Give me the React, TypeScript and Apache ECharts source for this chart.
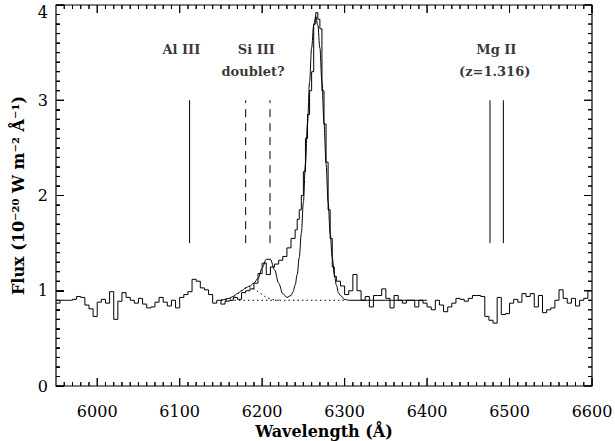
import React, { useEffect, useRef } from "react";
import * as echarts from "echarts";

// Observed spectrum (step histogram): bin start wavelength (Å) and flux
const histLambda = [
  5950, 5955, 5960, 5965, 5970, 5975, 5980, 5985, 5990, 5995,
  6000, 6005, 6010, 6015, 6020, 6025, 6030, 6035, 6040, 6045,
  6050, 6055, 6060, 6065, 6070, 6075, 6080, 6085, 6090, 6095,
  6100, 6105, 6110, 6115, 6120, 6125, 6130, 6135, 6140, 6145,
  6150, 6155, 6160, 6165, 6170, 6175, 6180, 6185, 6190, 6195,
  6200, 6205, 6210, 6215, 6220, 6225, 6230, 6235, 6240, 6242.5,
  6245, 6247.5, 6250, 6252.5, 6255, 6257.5, 6260, 6262.5, 6265, 6267.5,
  6270, 6272.5, 6275, 6277.5, 6280, 6282.5, 6285, 6287.5, 6290, 6295,
  6300, 6305, 6310, 6315, 6320, 6325, 6330, 6335, 6340, 6345,
  6350, 6355, 6360, 6365, 6370, 6375, 6380, 6385, 6390, 6395,
  6400, 6405, 6410, 6415, 6420, 6425, 6430, 6435, 6440, 6445,
  6450, 6455, 6460, 6465, 6470, 6475, 6480, 6485, 6490, 6495,
  6500, 6505, 6510, 6515, 6520, 6525, 6530, 6535, 6540, 6545,
  6550, 6555, 6560, 6565, 6570, 6575, 6580, 6585, 6590, 6595,
  6600,
];
const histFlux = [
  0.87, 0.9, 0.9, 0.9, 0.91, 0.94, 0.93, 0.85, 0.81, 0.73,
  0.88, 0.91, 0.87, 0.99, 0.7, 0.89, 0.98, 0.93, 0.9, 0.87,
  0.92, 0.86, 0.82, 0.83, 0.88, 0.93, 0.88, 0.84, 0.9, 0.82,
  0.93, 0.96, 0.99, 1.12, 1.1, 1.03, 1.01, 0.96, 0.87, 0.9,
  0.86, 0.89, 0.9, 0.93, 0.91, 0.98, 1.0, 1.02, 1.08, 1.18,
  1.29, 1.17, 1.25, 1.28, 1.32, 1.36, 1.45, 1.55, 1.64, 1.75,
  1.85, 2.0, 2.25, 2.6, 2.85, 3.1, 3.3, 3.8, 3.92, 3.85,
  3.75, 3.1, 2.75, 2.35, 1.85, 1.55, 1.25, 1.15, 1.1, 1.05,
  0.96, 1.0, 1.17, 1.0, 0.9, 0.94, 0.83, 0.95, 0.95, 1.02,
  0.92, 0.82, 0.95, 0.9, 0.87, 0.9, 0.9, 0.83, 0.9, 0.87,
  0.83, 0.8, 0.9, 0.85, 0.78, 0.83, 0.87, 0.92, 0.91, 0.89,
  0.92, 0.95, 0.95, 0.94, 0.73, 0.69, 0.66, 0.93, 0.75, 0.76,
  0.87, 0.91, 0.88, 0.97, 0.94, 0.97, 0.83, 0.95, 0.77, 0.8,
  0.82, 0.9, 1.01, 0.92, 0.87, 0.92, 0.84, 0.9, 0.92, 1.0,
  1.0,
];

// Fitted model (solid curve)
const fitLambda = [
  6150, 6155, 6160, 6165, 6170, 6175, 6180, 6185, 6190, 6195,
  6200, 6205, 6210, 6215, 6220, 6225, 6230, 6235, 6237.5, 6240,
  6242.5, 6245, 6247.5, 6250, 6252.5, 6255, 6257.5, 6260, 6262.5, 6265,
  6267.5, 6270, 6272.5, 6275, 6277.5, 6280, 6282.5, 6285, 6287.5, 6290,
  6292.5, 6295, 6300, 6305, 6400,
];
const fitFlux = [
  0.9, 0.91, 0.92, 0.94, 0.97, 1.0, 1.03, 1.05, 1.08, 1.13,
  1.24, 1.33, 1.33, 1.22, 1.08, 0.97, 0.93, 0.95, 0.99, 1.06,
  1.17, 1.35, 1.6, 1.93, 2.33, 2.76, 3.19, 3.55, 3.79, 3.88,
  3.79, 3.55, 3.19, 2.76, 2.33, 1.93, 1.6, 1.35, 1.17, 1.06,
  0.98, 0.95, 0.91, 0.9, 0.9,
];

// Dotted fit component and dotted continuum
const compLambda = [6150, 6155, 6160, 6165, 6170, 6175, 6180, 6185, 6190, 6195, 6200, 6205, 6210, 6215, 6220];
const compFlux = [0.9, 0.91, 0.92, 0.94, 0.97, 1.0, 1.03, 1.04, 1.02, 0.99, 0.96, 0.93, 0.915, 0.905, 0.9];
const contLambda = [6150, 6300];
const contFlux = [0.9, 0.9];

// Line identifications
const alIIILines = [6112];
const siIIILines = [6180, 6209.5];
const mgIILines = [6476.3, 6492.5];
const markerFlux = [1.5, 3.0];

const labelTexts = ["Al III", "Si III", "doublet?", "Mg II", "(z=1.316)"];
const labelLambda = [6102, 6193, 6189, 6484, 6482];
const labelFlux = [3.53, 3.53, 3.3, 3.53, 3.3];

// Axes
const xRange = [5950, 6600];
const yRange = [0, 4];
const xMajorTicks = [6000, 6100, 6200, 6300, 6400, 6500, 6600];
const yMajorTicks = [0, 1, 2, 3, 4];
const xMinorStep = 10;
const yMinorStep = 0.1;

const SERIF = "'DejaVu Serif', serif";
const GRID = { left: 56, right: 23, top: 5, bottom: 55 };
const W = 615;
const H = 441;
const MAJOR_LEN = 8;
const MINOR_LEN = 4;

export default function App() {
  const ref = useRef<HTMLDivElement>(null);

  useEffect(() => {
    if (!ref.current) return;
    const chart = echarts.init(ref.current, null, { renderer: "svg" });
    const black = "#000";

    const xMinor: number[] = [];
    for (let k = 1; xRange[0] + k * xMinorStep < xRange[1] - 1e-6; k++) {
      const v = xRange[0] + k * xMinorStep;
      if (Math.abs(v % 100) > 1e-6) xMinor.push(v);
    }
    const yMinor: number[] = [];
    for (let k = 1; k * yMinorStep < yRange[1] - 1e-6; k++) {
      const v = Math.round(k * yMinorStep * 10) / 10;
      if (Math.abs(v - Math.round(v)) > 1e-6) yMinor.push(v);
    }

    // Tick marks drawn as thin rectangle symbols, positioned by the axes' scales
    const tickMarks: any[] = [];
    const addX = (v: number, len: number) => {
      tickMarks.push({ value: [v, yRange[0]], symbolSize: [1, len], symbolOffset: [0, -len / 2] });
      tickMarks.push({ value: [v, yRange[1]], symbolSize: [1, len], symbolOffset: [0, len / 2] });
    };
    const addY = (v: number, len: number) => {
      tickMarks.push({ value: [xRange[0], v], symbolSize: [len, 1], symbolOffset: [len / 2, 0] });
      tickMarks.push({ value: [xRange[1], v], symbolSize: [len, 1], symbolOffset: [-len / 2, 0] });
    };
    xMajorTicks.forEach((v) => addX(v, MAJOR_LEN));
    xMinor.forEach((v) => addX(v, MINOR_LEN));
    yMajorTicks.forEach((v) => addY(v, MAJOR_LEN));
    yMinor.forEach((v) => addY(v, MINOR_LEN));

    const pairs = (xs: number[], ys: number[]) => xs.map((x, i) => [x, ys[i]]);
    const vline = (x: number, dashed: boolean) => ({
      type: "line",
      data: [
        [x, markerFlux[0]],
        [x, markerFlux[1]],
      ],
      showSymbol: false,
      silent: true,
      lineStyle: { color: black, width: 1, type: dashed ? [8, 6] : "solid" },
    });

    const option: any = {
      animation: false,
      backgroundColor: "#fff",
      grid: {
        ...GRID,
        outerBoundsMode: "none",
        show: true,
        borderColor: black,
        borderWidth: 1.2,
        backgroundColor: "transparent",
      },
      xAxis: {
        type: "value",
        min: xRange[0],
        max: xRange[1],
        splitNumber: 6,
        splitLine: { show: false },
        axisLine: { show: false },
        axisTick: { show: false },
        axisLabel: {
          show: true,
          color: black,
          fontFamily: SERIF,
          fontSize: 16,
          margin: 17,
          formatter: (v: number) => (v % 100 === 0 ? String(v) : ""),
        },
        name: "Wavelength (Å)",
        nameLocation: "middle",
        nameGap: 37,
        nameTextStyle: { color: black, fontFamily: SERIF, fontSize: 16, fontWeight: "bold" },
      },
      yAxis: {
        type: "value",
        min: yRange[0],
        max: yRange[1],
        interval: 1,
        splitLine: { show: false },
        axisLine: { show: false },
        axisTick: { show: true, inside: true, length: MAJOR_LEN, lineStyle: { color: black, width: 1 } },
        minorTick: { show: true, splitNumber: 10, length: MINOR_LEN, lineStyle: { color: black, width: 1 } },
        minorSplitLine: { show: false },
        axisLabel: {
          show: true,
          color: black,
          fontFamily: SERIF,
          fontSize: 16,
          margin: 8,
          formatter: (v: number) => (v === yRange[1] ? "{top|" + v + "}" : String(v)),
          rich: { top: { fontFamily: SERIF, fontSize: 16, color: black, padding: [14, 0, 0, 0] } },
        },
        name: "Flux (10⁻²⁰ W m⁻² Å⁻¹)",
        nameLocation: "middle",
        nameRotate: 90,
        nameGap: 29,
        nameTextStyle: { color: black, fontFamily: SERIF, fontSize: 16, fontWeight: "bold" },
      },
      series: [
        {
          type: "scatter",
          data: tickMarks,
          symbol: "rect",
          clip: false,
          silent: true,
          z: 20,
          itemStyle: { color: black, opacity: 1 },
        },
        {
          type: "line",
          step: "end",
          data: pairs(histLambda, histFlux),
          showSymbol: false,
          silent: true,
          lineStyle: { color: black, width: 1 },
        },
        {
          type: "line",
          data: pairs(fitLambda, fitFlux),
          smooth: 0.35,
          smoothMonotone: "x",
          showSymbol: false,
          silent: true,
          lineStyle: { color: black, width: 1 },
        },
        {
          type: "line",
          data: pairs(compLambda, compFlux),
          smooth: 0.35,
          showSymbol: false,
          silent: true,
          lineStyle: { color: black, width: 1, type: [1.5, 3] },
        },
        {
          type: "line",
          data: pairs(contLambda, contFlux),
          showSymbol: false,
          silent: true,
          lineStyle: { color: black, width: 1, type: [1.5, 3] },
        },
        ...alIIILines.map((x) => vline(x, false)),
        ...siIIILines.map((x) => vline(x, true)),
        ...mgIILines.map((x) => vline(x, false)),
        {
          type: "scatter",
          symbolSize: 1,
          silent: true,
          itemStyle: { color: "rgba(0,0,0,0)" },
          data: labelTexts.map((t, i) => ({ name: t, value: [labelLambda[i], labelFlux[i]] })),
          label: {
            show: true,
            position: "inside",
            formatter: "{b}",
            color: black,
            fontFamily: SERIF,
            fontWeight: "bold",
            fontSize: 13,
          },
        },
      ],
    };

    chart.setOption(option);

    // Redundant tick marks as graphic lines, placed through the grid's own scales
    const els: any[] = [];
    const toPx = (p: number[]) => chart.convertToPixel({ gridIndex: 0 }, p) as number[];
    const xLine = (v: number, len: number) => {
      const b = toPx([v, yRange[0]]);
      const t = toPx([v, yRange[1]]);
      if (!b || !t) return;
      els.push({ type: "line", silent: true, z: 30, shape: { x1: b[0], y1: b[1], x2: b[0], y2: b[1] - len }, style: { stroke: black, lineWidth: 1 } });
      els.push({ type: "line", silent: true, z: 30, shape: { x1: t[0], y1: t[1], x2: t[0], y2: t[1] + len }, style: { stroke: black, lineWidth: 1 } });
    };
    const yLine = (v: number, len: number) => {
      const l = toPx([xRange[0], v]);
      const r = toPx([xRange[1], v]);
      if (!l || !r) return;
      els.push({ type: "line", silent: true, z: 30, shape: { x1: l[0], y1: l[1], x2: l[0] + len, y2: l[1] }, style: { stroke: black, lineWidth: 1 } });
      els.push({ type: "line", silent: true, z: 30, shape: { x1: r[0], y1: r[1], x2: r[0] - len, y2: r[1] }, style: { stroke: black, lineWidth: 1 } });
    };
    xMajorTicks.forEach((v) => xLine(v, MAJOR_LEN));
    xMinor.forEach((v) => xLine(v, MINOR_LEN));
    yMajorTicks.forEach((v) => yLine(v, MAJOR_LEN));
    yMinor.forEach((v) => yLine(v, MINOR_LEN));
    chart.setOption({ graphic: { elements: els } });

    return () => chart.dispose();
  }, []);

  return (
    <div
      ref={ref}
      style={{ position: "fixed", left: 0, top: 0, width: W, height: H, background: "#fff" }}
    />
  );
}
